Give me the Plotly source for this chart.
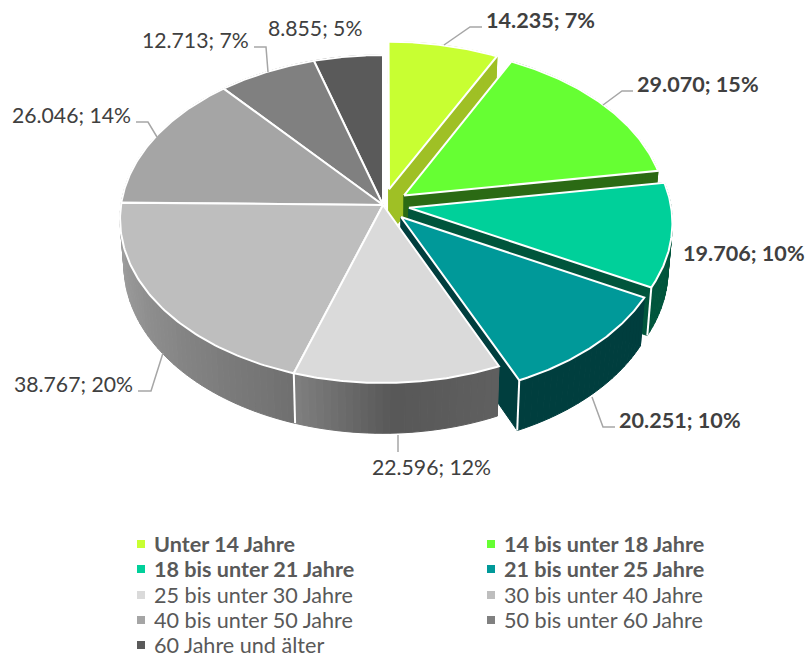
import numpy as np
import plotly.graph_objects as go

categories = ["Unter 14 Jahre", "14 bis unter 18 Jahre", "18 bis unter 21 Jahre", "21 bis unter 25 Jahre",
              "25 bis unter 30 Jahre", "30 bis unter 40 Jahre", "40 bis unter 50 Jahre", "50 bis unter 60 Jahre",
              "60 Jahre und älter"]
values = [14235, 29070, 19706, 20251, 22596, 38767, 26046, 12713, 8855]
data_labels = ["14.235; 7%", "29.070; 15%", "19.706; 10%", "20.251; 10%", "22.596; 12%",
               "38.767; 20%", "26.046; 14%", "12.713; 7%", "8.855; 5%"]
top_colors = ["#c8ff32", "#66ff33", "#00d09a", "#009999", "#dadada", "#bebebe", "#a5a5a5", "#808080", "#5a5a5a"]
wall_colors = ["#9fc025", "#2b6a14", "#00553c", "#003e3e", "#585858", "#808080", "#707070", "#505050", "#3a3a3a"]
exploded = [0.1, 0.1, 0.1, 0.1, 0, 0, 0, 0, 0]
bold = [True, True, True, True, False, False, False, False, False]
# gradient stops for the front wall: slice index -> (angle, grey)
wall_gradient = {4: [(156, 0x60), (178, 0x58), (198, 0x80)],
                 5: [(198, 0x70), (255, 0x9a), (271, 0xa0)]}

CX, CY, RX, RY, P, H, NARROW = 383, 205, 262, 162.8, 0.0854, 46, 0.985
FONT = "Lato"


def project(u, v, z=0):
    f = 1 / (1 + P * v)
    x = CX + RX * u * f
    y = CY - RY * v * f
    if z:
        x = CX + (x - CX) * NARROW
        y = y + z * H * f
    return x, y


def rim(a, off, z=0):
    r = np.radians(a)
    return project(np.sin(r) + off[0], np.cos(r) + off[1], z)


def poly(fig, xs, ys, fill, line=None, width=1):
    fig.add_trace(go.Scatter(x=list(xs), y=list(ys), mode="lines", fill="toself", fillcolor=fill,
                             line=dict(color=line or fill, width=width), hoverinfo="skip", showlegend=False))


fig = go.Figure()
total = sum(values)
edges = np.concatenate([[0], np.cumsum(values) / total * 360])
for i in [0, 1, 2, 3, 8, 7, 6, 5, 4]:
    a0, a1 = edges[i], edges[i + 1]
    mid = np.radians((a0 + a1) / 2)
    off = (exploded[i] * np.sin(mid), exploded[i] * np.cos(mid))
    ax, ay = project(*off)
    bx, by = project(*off, 1)
    # radial walls
    for a in (a0, a1):
        x0, y0 = rim(a, off)
        x1, y1 = rim(a, off, 1)
        poly(fig, [ax, x0, x1, bx, ax], [ay, y0, y1, by, ay], wall_colors[i])
    # outer wall in short pieces so that it can carry a gradient
    n = max(2, int((a1 - a0) / 1.5))
    angs = np.linspace(a0, a1, n + 1)
    for a, b in zip(angs[:-1], angs[1:]):
        if i in wall_gradient:
            st = wall_gradient[i]
            g = int(np.interp((a + b) / 2, [s[0] for s in st], [s[1] for s in st]))
            col = f"rgb({g},{g},{g})"
        else:
            col = wall_colors[i]
        p0, p1, p2, p3 = rim(a, off), rim(b, off), rim(b, off, 1), rim(a, off, 1)
        poly(fig, [p0[0], p1[0], p2[0], p3[0], p0[0]], [p0[1], p1[1], p2[1], p3[1], p0[1]], col)
    # white seam on the end edge of the front walls
    if i in (2, 3, 4):
        e0, e1 = rim(a1, off), rim(a1, off, 1)
        fig.add_trace(go.Scatter(x=[e0[0], e1[0]], y=[e0[1], e1[1]], mode="lines",
                                 line=dict(color="white", width=2), hoverinfo="skip", showlegend=False))
    # top face
    arc = [rim(a, off) for a in np.linspace(a0, a1, 80)]
    poly(fig, [ax] + [p[0] for p in arc] + [ax], [ay] + [p[1] for p in arc] + [ay],
         top_colors[i], "white", 2)

# leader lines: slice index -> polyline
leaders = {0: [(444, 45), (470, 27), (482, 27)], 1: [(603, 105), (622, 91), (633, 91)],
           3: [(592, 397), (603, 427), (615, 427)], 4: [(398, 435), (398, 452)],
           5: [(163, 353), (151, 391), (138, 391)], 6: [(157, 137), (148, 122), (136, 122)],
           7: [(268, 72), (266, 47), (254, 47)]}
for pts in leaders.values():
    fig.add_trace(go.Scatter(x=[p[0] for p in pts], y=[p[1] for p in pts], mode="lines",
                             line=dict(color="#a6a6a6", width=1.5), hoverinfo="skip", showlegend=False))

label_pos = [(484, 20), (635, 84), (681, 253), (617, 420), (370, 467), (12, 384), (10, 115), (140, 40), (266, 28)]
ann = []
for i, (t, (x, y)) in enumerate(zip(data_labels, label_pos)):
    ann.append(dict(x=x, y=y, xref="x", yref="y", text=f"<b>{t}</b>" if bold[i] else t, showarrow=False,
                    xanchor="left", yanchor="middle",
                    font=dict(family=FONT, size=21.6 if bold[i] else 21.2, color="#404040")))

rows = [544, 569, 595, 620, 645]
for i, c in enumerate(categories):
    col, row = i % 2, i // 2
    mx = [141, 491][col]
    my = rows[row]
    fig.add_trace(go.Scatter(x=[mx], y=[my], mode="markers", name=c,
                             marker=dict(symbol="square", size=8, color=top_colors[i]),
                             hoverinfo="skip", showlegend=False))
    ann.append(dict(x=mx + 11, y=my, xref="x", yref="y", text=f"<b>{c}</b>" if bold[i] else c, showarrow=False,
                    xanchor="left", yanchor="middle", font=dict(family=FONT, size=21.6, color="#595959")))

fig.update_layout(width=805, height=658, margin=dict(l=0, r=0, t=0, b=0), paper_bgcolor="white",
                  plot_bgcolor="white", showlegend=False, annotations=ann,
                  xaxis=dict(range=[0, 805], visible=False), yaxis=dict(range=[658, 0], visible=False))
fig.write_html("out.html", config=dict(displayModeBar=False),
               post_script="document.body.style.margin='0';document.documentElement.style.overflow='hidden';")
